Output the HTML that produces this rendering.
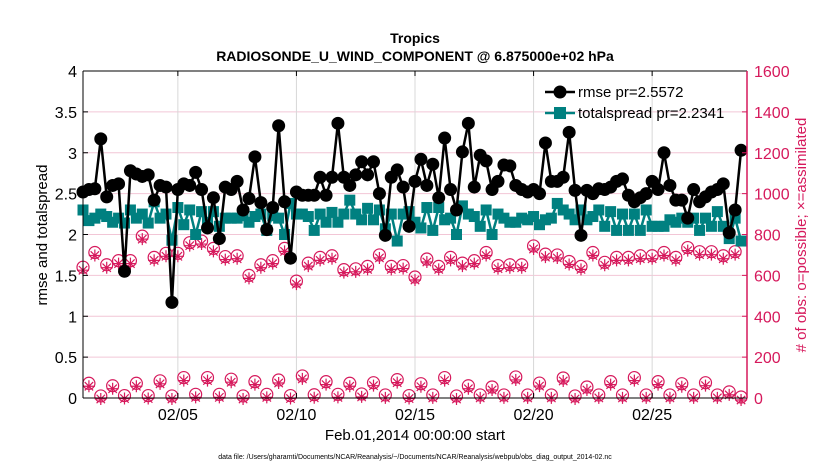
<!DOCTYPE html>
<html><head><meta charset="utf-8"><style>
body{margin:0;background:#fff;}
svg text{font-family:"Liberation Sans",sans-serif;}
</style></head><body>
<svg id="chart" width="830" height="470" xmlns="http://www.w3.org/2000/svg">
<rect width="830" height="470" fill="#fff"/>
<g id="grid"></g><g id="obs"></g><g id="spread"></g><g id="rmse"></g><g id="axes"></g>
<text x="415" y="43" text-anchor="middle" font-size="14" font-weight="bold">Tropics</text>
<text x="415" y="61" text-anchor="middle" font-size="14" font-weight="bold">RADIOSONDE_U_WIND_COMPONENT @ 6.875000e+02 hPa</text>
<text x="415" y="440" text-anchor="middle" font-size="15">Feb.01,2014 00:00:00 start</text>
<text x="415" y="459" text-anchor="middle" font-size="7">data file: /Users/gharamti/Documents/NCAR/Reanalysis/~/Documents/NCAR/Reanalysis/webpub/obs_diag_output_2014-02.nc</text>
<text transform="translate(47,235) rotate(-90)" text-anchor="middle" font-size="15">rmse and totalspread</text>
<text transform="translate(806,235) rotate(-90)" text-anchor="middle" font-size="15" fill="#d6195c"># of obs: o=possible; ×=assimilated</text>
<g>
<line x1="545" y1="92" x2="575" y2="92" stroke="#000" stroke-width="2.5"/><circle cx="560" cy="92" r="6.5" fill="#000"/>
<text x="578" y="97" font-size="15">rmse pr=2.5572</text>
<line x1="545" y1="113" x2="575" y2="113" stroke="#008080" stroke-width="2.5"/><rect x="554" y="107" width="12" height="12" fill="#008080"/>
<text x="578" y="118" font-size="15">totalspread pr=2.2341</text>
</g>
</svg>
<script>
const rmse=[2.52,2.55,2.56,3.17,2.46,2.60,2.62,1.55,2.78,2.74,2.71,2.73,2.42,2.60,2.58,1.17,
2.55,2.62,2.60,2.76,2.55,2.08,2.45,1.95,2.58,2.55,2.65,2.30,2.44,2.95,2.39,2.06,
2.33,3.33,2.40,1.71,2.52,2.48,2.48,2.48,2.70,2.48,2.70,3.36,2.70,2.60,2.73,2.89,
2.73,2.89,2.50,1.99,2.70,2.79,2.58,2.10,2.65,2.92,2.60,2.86,2.45,3.18,2.55,2.30,
3.01,3.36,2.58,2.97,2.90,2.55,2.65,2.85,2.84,2.60,2.55,2.52,2.55,2.50,3.12,2.65,
2.65,2.70,3.25,2.54,1.99,2.54,2.50,2.56,2.55,2.58,2.65,2.68,2.48,2.40,2.45,2.50,
2.65,2.55,3.00,2.60,2.42,2.42,2.20,2.55,2.40,2.46,2.52,2.55,2.62,2.02,2.30,3.03];
const spread=[2.30,2.17,2.20,2.25,2.22,2.15,2.20,2.14,2.30,2.20,2.25,2.14,2.40,2.20,2.25,1.93,
2.33,2.12,2.30,2.00,2.28,2.15,2.28,2.10,2.20,2.20,2.20,2.23,2.15,2.22,2.25,2.05,
2.23,2.20,2.00,2.38,2.25,2.25,2.22,2.05,2.25,2.15,2.27,2.15,2.25,2.42,2.25,2.18,
2.32,2.18,2.30,2.07,2.25,1.92,2.25,2.28,2.15,2.08,2.33,2.05,2.33,2.18,2.20,2.00,
2.35,2.25,2.22,2.10,2.30,2.00,2.25,2.20,2.15,2.15,2.20,2.18,2.22,2.12,2.18,2.20,
2.38,2.30,2.25,2.18,2.30,2.18,2.22,2.30,2.10,2.28,2.05,2.25,2.05,2.25,2.05,2.30,
2.10,2.10,2.10,2.18,2.15,2.20,2.15,2.20,2.05,2.20,2.10,2.28,2.10,1.95,2.20,1.92];
const obsHigh=[640,712,652,672,672,792,688,708,708,760,768,732,692,696,
600,652,672,732,572,660,688,696,628,632,644,700,644,648,
592,680,644,688,660,672,712,648,652,652,744,704,700,668,
644,712,664,688,688,696,696,712,688,736,716,716,696,716];
const obsLow=[72,10,60,12,72,12,84,10,100,18,100,18,92,10,80,18,88,12,108,16,80,18,72,20,
75,15,90,12,70,15,100,10,60,15,54,15,103,15,73,15,98,10,54,15,80,15,100,15,80,15,70,15,75,15,30,5];
const xTickDays=[4,9,14,19,24];
const xTickLabels=["02/05","02/10","02/15","02/20","02/25"];
const yTicks=[0,0.5,1,1.5,2,2.5,3,3.5,4];
const y2Ticks=[0,200,400,600,800,1000,1200,1400,1600];

const L=83,R=747,T=71,B=398,DAYS=28;
const xDay=d=>L+(R-L)*d/DAYS;
const xi=i=>xDay(i*0.25);
const yL=v=>B-(B-T)*v/4;
const yR=v=>B-(B-T)*v/1600;
const NS="http://www.w3.org/2000/svg";
function mk(tag,attrs,parent,txt){const e=document.createElementNS(NS,tag);for(const k in attrs)e.setAttribute(k,attrs[k]);if(txt!==undefined)e.textContent=txt;parent.appendChild(e);return e;}
const grid=document.getElementById('grid'),axes=document.getElementById('axes');
yTicks.forEach((v,j)=>{
 if(v>0&&v<4){const g=mk('line',{x1:L,x2:R,y1:yL(v),y2:yL(v),stroke:'#f2c6d6','stroke-width':1},grid);
 
 }
 const t=mk('text',{x:L-6,y:yL(v)+6,'text-anchor':'end','font-size':16},axes,String(v));
 
 
 mk('line',{x1:L,x2:L+5,y1:yL(v),y2:yL(v),stroke:'#000'},axes);
});
y2Ticks.forEach(v=>{
 const t=mk('text',{x:R+7,y:yR(v)+6,'font-size':16,fill:'#d6195c'},axes,String(v));
 
 
 mk('line',{x1:R-5,x2:R,y1:yR(v),y2:yR(v),stroke:'#d6195c'},axes);
});
xTickDays.forEach((d,j)=>{
 const g=mk('line',{x1:xDay(d),x2:xDay(d),y1:T,y2:B,stroke:'#d8d8d8','stroke-width':1},grid);
 
 
 mk('line',{x1:xDay(d),x2:xDay(d),y1:B,y2:B-5,stroke:'#000'},axes);
 mk('line',{x1:xDay(d),x2:xDay(d),y1:T,y2:T+5,stroke:'#000'},axes);
 const t=mk('text',{x:xDay(d),y:B+22,'text-anchor':'middle','font-size':16},axes,xTickLabels[j]);
 
 
});
mk('line',{x1:L,x2:R,y1:T,y2:T,stroke:'#000'},axes);
mk('line',{x1:L,x2:R,y1:B,y2:B,stroke:'#000'},axes);
mk('line',{x1:L,x2:L,y1:T,y2:B,stroke:'#000'},axes);
mk('line',{x1:R,x2:R,y1:T,y2:B,stroke:'#d6195c','stroke-width':1.5},axes);

const obsG=document.getElementById('obs');
function obsMark(x,y){
 const g=mk('g',{},obsG);
 
 
 mk('circle',{cx:x,cy:y,r:6,fill:'none',stroke:'#d6195c','stroke-width':1.2},g);
 const y2=y+3,s=6;
 mk('path',{d:`M${x-s} ${y2}H${x+s}M${x} ${y2-s}V${y2+s}M${x-4.2} ${y2-4.2}L${x+4.2} ${y2+4.2}M${x-4.2} ${y2+4.2}L${x+4.2} ${y2-4.2}`,stroke:'#d6195c','stroke-width':1.2,fill:'none'},g);
}
obsHigh.forEach((v,k)=>obsMark(xi(2*k),yR(v)));
obsLow.forEach((v,k)=>obsMark(xi(2*k+1),yR(v)));

const sG=document.getElementById('spread');
const sp=mk('polyline',{points:spread.map((v,i)=>xi(i)+','+yL(v)).join(' '),fill:'none',stroke:'#008080','stroke-width':2.5},sG);


spread.forEach((v,i)=>{const r=mk('rect',{x:xi(i)-5.5,y:yL(v)-5.5,width:11,height:11,fill:'#008080'},sG);
 
 });

const rG=document.getElementById('rmse');
const rl=mk('polyline',{points:rmse.map((v,i)=>xi(i)+','+yL(v)).join(' '),fill:'none',stroke:'#000','stroke-width':2.5},rG);


rmse.forEach((v,i)=>{const c=mk('circle',{cx:xi(i),cy:yL(v),r:6.5,fill:'#000'},rG);
 
 });
// move spread above rmse circles? keep rmse on top
</script>
</body></html>
